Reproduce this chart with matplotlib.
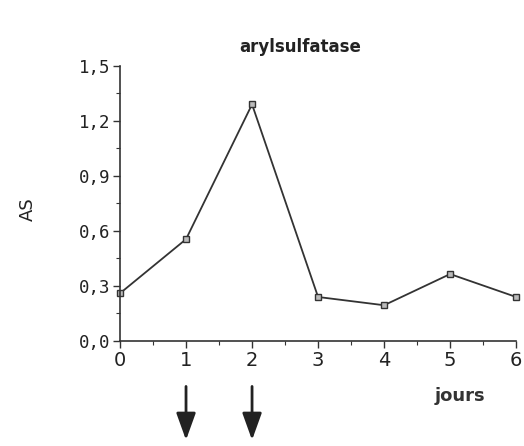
import matplotlib
matplotlib.use('Agg')
import matplotlib.pyplot as plt
import numpy as np

days = [0, 1, 2, 3, 4, 5, 6]
as_values = [0.26, 0.555, 1.29, 0.24, 0.195, 0.365, 0.24]
ytick_vals = [0.0, 0.3, 0.6, 0.9, 1.2, 1.5]
ytick_labels = ['0,0', '0,3', '0,6', '0,9', '1,2', '1,5']
arrow_days = [1, 2]

fig = plt.figure(figsize=(5.24, 4.46), dpi=100)
ax = fig.add_axes([0.229, 0.2354, 0.756, 0.617])

ax.plot(days, as_values, color='#333333', lw=1.3, marker='s', ms=4,
        mfc='#bbbbbb', mec='#333333', mew=1.0, clip_on=False)

ax.set_xlim(0, 6)
ax.set_ylim(0, 1.5)
ax.set_xticks(days)
ax.set_xticklabels([str(d) for d in days], fontsize=14, color='#222222')
ax.set_xticks(np.arange(0, 6.01, 0.5), minor=True)
ax.set_yticks(ytick_vals)
ax.set_yticklabels(ytick_labels, fontsize=12.5, family='DejaVu Sans Mono',
                   color='#222222')
ax.set_yticks(np.arange(0, 1.51, 0.15), minor=True)
ax.tick_params(axis='both', which='major', length=5, width=1, direction='out',
               color='#333333', pad=2)
ax.tick_params(axis='both', which='minor', length=3, width=0.8, direction='out',
               color='#333333')

for side in ['top', 'right']:
    ax.spines[side].set_visible(False)
for side in ['left', 'bottom']:
    ax.spines[side].set_color('#333333')
    ax.spines[side].set_linewidth(1.2)

fig.text(0.573, 0.895, 'arylsulfatase', fontsize=12, fontweight='bold',
         ha='center', va='center', color='#222222')
fig.text(0.053, 0.53, 'AS', fontsize=13, rotation=90, ha='center',
         va='center', color='#222222')
fig.text(0.878, 0.113, 'jours', fontsize=13, fontweight='bold',
         ha='center', va='center', color='#333333')

trans = ax.get_xaxis_transform()
for d in arrow_days:
    ax.annotate('', xy=(d, -0.37), xytext=(d, -0.155), xycoords=trans,
                textcoords=trans, annotation_clip=False,
                arrowprops=dict(arrowstyle='-|>,head_length=0.75,head_width=0.27',
                                color='#222222', lw=2.0, mutation_scale=22))

fig.savefig('out.png', dpi=100)
